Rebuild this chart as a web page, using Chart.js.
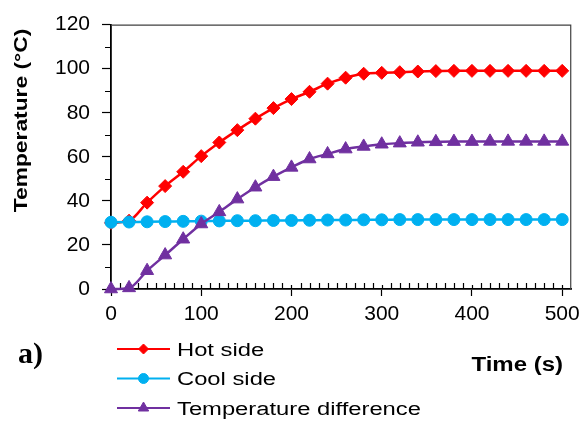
<!DOCTYPE html>
<html>
<head>
<meta charset="utf-8">
<script src="https://cdn.jsdelivr.net/npm/chart.js@4.4.1/dist/chart.umd.min.js"></script>
<style>
    html, body { margin: 0; padding: 0; background: #ffffff; }
    #wrap { width: 586px; height: 423px; }
</style>
</head>
<body>
<div id="wrap"><canvas id="chart" width="586" height="423"></canvas></div>
<script>
// Time axis (s), one reading every 20 s
const TIME_S = [0, 20, 40, 60, 80, 100, 120, 140, 160, 180, 200, 220, 240,
    260, 280, 300, 320, 340, 360, 380, 400, 420, 440, 460, 480, 500];

// Temperatures (°C)
const HOT_SIDE = [30.0, 31.0, 39.2, 46.7, 53.2, 60.3, 66.5, 72.1, 77.3, 82.1, 86.2, 89.5, 93.2,
    95.9, 97.7, 98.1, 98.4, 98.7, 98.9, 99.0, 99.0, 99.0, 99.0, 99.0, 99.0, 99.0];
const COOL_SIDE = [30.3, 30.4, 30.5, 30.6, 30.7, 30.8, 30.9, 31.0, 31.0, 31.1, 31.1, 31.2, 31.3,
    31.3, 31.4, 31.4, 31.5, 31.5, 31.5, 31.5, 31.5, 31.5, 31.5, 31.5, 31.5, 31.5];
const TEMP_DIFF = [0.0, 0.5, 8.3, 15.4, 22.6, 29.5, 35.0, 40.8, 46.2, 51.0, 55.2, 59.0, 61.3,
    63.5, 64.7, 65.7, 66.2, 66.6, 66.8, 66.9, 66.9, 67.0, 67.0, 67.0, 67.0, 67.0];

const X_TICKS = [0, 100, 200, 300, 400, 500];
const Y_TICKS = [0, 20, 40, 60, 80, 100, 120];

const SERIES_LABELS = ['Hot side', 'Cool side', 'Temperature difference'];
const X_TITLE = 'Time (s)';
const Y_TITLE = 'Temperature (\u00B0C)';
const PANEL_LABEL = 'a)';

const X_MAX = 510;      // plot frame runs a little past the last tick
const X_MINOR = 10;
const Y_MAX = 120;
const Y_MINOR = 10;

const COLORS = {
    hot: '#ff0000',
    cool: '#00b0f0',
    diff: '#7030a0',
    axis: '#000000',
    frame: '#404040',
    text: '#000000',
};

const SANS = "'Liberation Sans', Arial, sans-serif";
const SERIF = "'Liberation Serif', 'Times New Roman', serif";

const MARKERS = [
    { style: 'rectRot', radius: 6.5, color: COLORS.hot },
    { style: 'circle', radius: 6, color: COLORS.cool },
    { style: 'triangle', radius: 7.5, color: COLORS.diff },
];

function toPoints(values) {
    return TIME_S.map((t, i) => ({ x: t, y: values[i] }));
}

function makeDataset(label, values, marker, order) {
    return {
        label,
        data: toPoints(values),
        showLine: true,
        borderColor: marker.color,
        backgroundColor: marker.color,
        borderWidth: 2.5,
        pointStyle: marker.style,
        pointRadius: marker.radius,
        pointBorderWidth: 1,
        pointBorderColor: marker.color,
        pointBackgroundColor: marker.color,
        cubicInterpolationMode: 'monotone',
        clip: false,
        order,
    };
}

// Draws text stretched horizontally (the source font runs wide)
function stretchedText(ctx, text, x, y, font, sx, align) {
    ctx.save();
    ctx.font = font;
    ctx.fillStyle = COLORS.text;
    ctx.textBaseline = 'alphabetic';
    const w = ctx.measureText(text).width * sx;
    let left = x;
    if (align === 'center') left = x - w / 2;
    if (align === 'right') left = x - w;
    ctx.translate(left, y);
    ctx.scale(sx, 1);
    ctx.textAlign = 'left';
    ctx.fillText(text, 0, 0);
    ctx.restore();
}

function marker(ctx, m, x, y, radius) {
    ctx.save();
    ctx.fillStyle = m.color;
    ctx.strokeStyle = m.color;
    ctx.lineWidth = 1;
    Chart.helpers.drawPoint(ctx, { pointStyle: m.style, radius, borderWidth: 1, rotation: 0 }, x, y);
    ctx.restore();
}

// Frame, minor ticks and the inner part of the major x ticks
const framePlugin = {
    id: 'frame',
    beforeDatasetsDraw(chart) {
        const { ctx, chartArea: a, scales } = chart;
        ctx.save();
        ctx.strokeStyle = COLORS.frame;
        ctx.lineWidth = 1.2;
        ctx.beginPath();
        ctx.moveTo(a.left, a.top + 0.5);
        ctx.lineTo(a.right - 0.5, a.top + 0.5);
        ctx.lineTo(a.right - 0.5, a.bottom);
        ctx.stroke();

        ctx.strokeStyle = COLORS.axis;
        ctx.lineWidth = 1.2;
        ctx.beginPath();
        for (let v = X_MINOR; v <= 500; v += X_MINOR) {
            const px = Math.round(scales.x.getPixelForValue(v)) + 0.5;
            const len = X_TICKS.includes(v) ? 4 : 6;
            ctx.moveTo(px, a.bottom);
            ctx.lineTo(px, a.bottom - len);
        }
        for (let v = Y_MINOR; v < Y_MAX; v += Y_MINOR) {
            if (Y_TICKS.includes(v)) continue;
            const py = Math.round(scales.y.getPixelForValue(v)) + 0.5;
            ctx.moveTo(a.left, py);
            ctx.lineTo(a.left - 6, py);
        }
        ctx.stroke();
        ctx.restore();
    },
    afterDraw(chart) {
        const { ctx } = chart;

        // legend: line sample with marker, then label
        const rows = [349, 378.5, 408];
        SERIES_LABELS.forEach((label, i) => {
            const m = MARKERS[i];
            const y = rows[i];
            ctx.save();
            ctx.strokeStyle = m.color;
            ctx.lineWidth = 2;
            ctx.beginPath();
            ctx.moveTo(117, y);
            ctx.lineTo(170, y);
            ctx.stroke();
            ctx.restore();
            marker(ctx, m, 143.5, y, m.style === 'triangle' ? 6 : 5);
            stretchedText(ctx, label, 177, y + 6.5, `18px ${SANS}`, 1.32, 'left');
        });

        // x-axis title, bottom right
        stretchedText(ctx, X_TITLE, 563, 371, `bold 20px ${SANS}`, 1.2, 'right');

        // panel label
        stretchedText(ctx, PANEL_LABEL, 18, 363, `bold 30px ${SERIF}`, 1.0, 'left');

        // y-axis title, rotated
        ctx.save();
        ctx.translate(27, 120.5);
        ctx.rotate(-Math.PI / 2);
        stretchedText(ctx, Y_TITLE, 0, 0, `bold 19px ${SANS}`, 1.2, 'center');
        ctx.restore();
    },
};

const ctx = document.getElementById('chart');

new Chart(ctx, {
    type: 'scatter',
    data: {
        datasets: [
            makeDataset(SERIES_LABELS[0], HOT_SIDE, MARKERS[0], 2),
            makeDataset(SERIES_LABELS[1], COOL_SIDE, MARKERS[1], 1),
            makeDataset(SERIES_LABELS[2], TEMP_DIFF, MARKERS[2], 0),
        ],
    },
    options: {
        responsive: false,
        animation: false,
        devicePixelRatio: 1,
        layout: { padding: { top: 20, right: 14, left: 0, bottom: 0 } },
        plugins: {
            legend: { display: false },
            tooltip: { enabled: false },
        },
        scales: {
            x: {
                type: 'linear',
                min: 0,
                max: X_MAX,
                afterBuildTicks(scale) { scale.ticks = X_TICKS.map(v => ({ value: v })); },
                afterFit(scale) { scale.height = 134; },
                ticks: {
                    color: COLORS.text,
                    font: { family: SANS, size: 21 },
                    padding: 6,
                    maxRotation: 0,
                    autoSkip: false,
                },
                grid: {
                    drawOnChartArea: false,
                    tickLength: 7,
                    tickColor: COLORS.axis,
                    tickWidth: 1.2,
                },
                border: { color: COLORS.axis, width: 1.8 },
            },
            y: {
                min: 0,
                max: Y_MAX,
                afterBuildTicks(scale) { scale.ticks = Y_TICKS.map(v => ({ value: v })); },
                afterFit(scale) { scale.width = 111; },
                ticks: {
                    color: COLORS.text,
                    font: { family: SANS, size: 21 },
                    padding: 12,
                    autoSkip: false,
                },
                grid: {
                    drawOnChartArea: false,
                    tickLength: 9,
                    tickColor: COLORS.axis,
                    tickWidth: 1.2,
                },
                border: { color: COLORS.axis, width: 1.8 },
            },
        },
    },
    plugins: [framePlugin],
});
</script>
</body>
</html>
